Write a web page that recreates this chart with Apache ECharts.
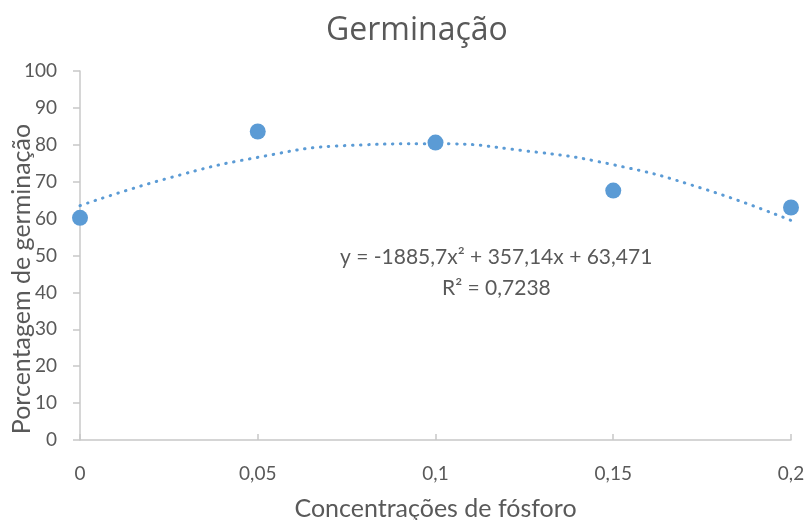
<!DOCTYPE html>
<html>
<head>
<meta charset="utf-8">
<script src="https://cdn.jsdelivr.net/npm/echarts@6/dist/echarts.min.js"></script>
<style>
html,body{margin:0;padding:0;background:#fff;}
#main{width:808px;height:520px;}
</style>
</head>
<body>
<div id="main"></div>
<script>
// dados
var concentracoes = [0, 0.05, 0.1, 0.15, 0.2];
var germinacao = [60.2, 83.6, 80.6, 67.6, 63.0];
// linha de tendência (polinomial)
var tendX = [0, 0.025, 0.05, 0.075, 0.1, 0.125, 0.15, 0.175, 0.2];
var tendY = [63.5, 71.0, 76.6, 79.8, 80.3, 78.4, 74.6, 68.2, 59.5];
var equacao = 'y = -1885,7x² + 357,14x + 63,471';
var r2 = 'R² = 0,7238';

var cor = '#5b9bd5';
var cinza = '#595959';
var fonte = 'Lato, "Open Sans", sans-serif';

var chart = echarts.init(document.getElementById('main'));

function virgula(v) {
    return String(+v.toFixed(2)).replace('.', ',');
}

var option = {
    backgroundColor: '#fff',
    animation: false,
    title: {
        text: 'Germinação',
        left: 321,
        top: 10,
        textStyle: {color: cinza, fontSize: 32, fontWeight: 'normal', fontFamily: '"Open Sans", sans-serif'}
    },
    grid: {left: 80, right: 17, top: 71, bottom: 80, outerBoundsMode: 'none', containLabel: false},
    xAxis: {
        type: 'value',
        min: 0, max: 0.2, interval: 0.05,
        name: 'Concentrações de fósforo',
        nameLocation: 'middle',
        nameGap: 56,
        nameTextStyle: {color: cinza, fontSize: 25, fontFamily: fonte},
        axisLine: {show: true, lineStyle: {color: '#c8c8c8', width: 1.5}},
        axisTick: {show: true, inside: true, length: 6, lineStyle: {color: '#c8c8c8', width: 1.5}},
        axisLabel: {color: cinza, fontSize: 19, margin: 24, fontFamily: fonte, formatter: virgula},
        splitLine: {show: false}
    },
    yAxis: {
        type: 'value',
        min: 0, max: 100, interval: 10,
        axisLine: {show: true, lineStyle: {color: '#c8c8c8', width: 1.5}},
        axisTick: {show: true, length: 7, lineStyle: {color: '#c8c8c8', width: 1.5}},
        axisLabel: {color: cinza, fontSize: 19, margin: 23, fontFamily: fonte},
        splitLine: {show: false}
    },
    series: [
        {
            type: 'line',
            data: tendX.map(function (x, i) { return [x, tendY[i]]; }),
            smooth: true,
            showSymbol: false,
            lineStyle: {color: cor, width: 3, type: [0.5, 7.5], cap: 'round'},
            z: 2
        },
        {
            type: 'scatter',
            data: concentracoes.map(function (x, i) { return [x, germinacao[i]]; }),
            symbolSize: 16,
            itemStyle: {color: cor, opacity: 1},
            z: 3
        }
    ],
    graphic: [
        {
            // nome do eixo Y (deslocado para baixo como no original)
            type: 'text', x: 22, y: 279, rotation: Math.PI / 2,
            style: {text: 'Porcentagem de germinação', fill: cinza, fontSize: 25, fontFamily: fonte,
                align: 'center', verticalAlign: 'middle'}
        },
        {
            type: 'text', left: 340, top: 247,
            style: {text: equacao, fill: cinza, fontSize: 21, fontFamily: fonte}
        },
        {
            type: 'text', left: 442, top: 278,
            style: {text: r2, fill: cinza, fontSize: 21, fontFamily: fonte}
        }
    ]
};
chart.setOption(option);
</script>
</body>
</html>
